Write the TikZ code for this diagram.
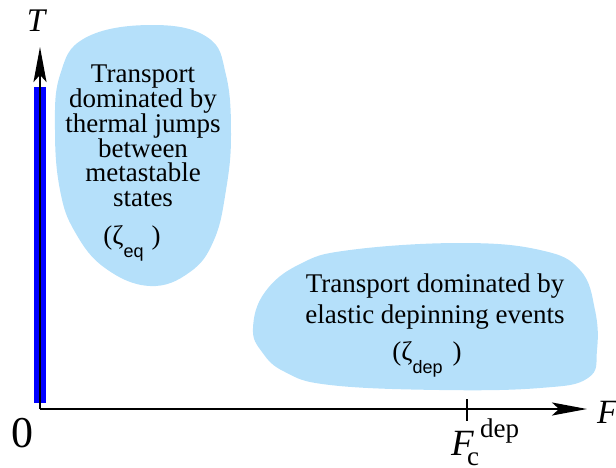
\documentclass[tikz,border=0pt]{standalone}
\usepackage{fontspec}
\setmainfont{Liberation Serif}
\newfontfamily\sanssub{Liberation Sans}
\usetikzlibrary{arrows.meta}
\definecolor{blobblue}{RGB}{181,224,250}
\definecolor{barblue}{RGB}{0,0,255}
\tikzset{
  blob/.style={fill=blobblue, draw=none},
  axis/.style={line width=2pt, -{Stealth[length=35pt,width=13pt,inset=7pt]}},
  blobtext/.style={align=center, inner sep=0pt, font=\fontsize{27}{24.5}\selectfont},
  lbl/.style={inner sep=0pt},
}
\newcommand{\subtxt}[1]{\raisebox{-13pt}{\sanssub\fontsize{18}{18}\selectfont #1}}
\begin{document}
\begin{tikzpicture}[x=1pt,y=-1pt]
\useasboundingbox (0,0) rectangle (616,467);
% blobs
\path[blob] plot[smooth cycle, tension=0.7] coordinates {
 (150,25) (207,37) (226,75) (231,135) (226,190) (214,240) (190,272) (150,286)
 (105,268) (75,232) (60,190) (55,130) (60,75) (85,38)};
\path[blob] plot[smooth cycle, tension=0.7] coordinates {
 (253,328) (265,292) (300,264) (350,250) (460,243) (540,250) (580,270)
 (595,310) (597,350) (588,378) (540,388) (440,390) (330,385) (285,372) (262,352)};
% blue bar
\fill[barblue] (34,87) rectangle (46,403);
% axes
\coordinate (O) at (40,409);
\coordinate (Ttip) at (40,47);
\coordinate (Ftip) at (587,409);
\draw[axis] (O) -- (Ttip);
\draw[axis] (O) -- (Ftip);
\coordinate (tickA) at (467,399);
\coordinate (tickB) at (467,421);
\draw[line width=2pt] (tickA) -- (tickB);
% labels
\node[lbl, font=\fontsize{33}{33}\selectfont\itshape] (Tlab) at (36,21) {T};
\node[lbl, font=\fontsize{34}{34}\selectfont\itshape, anchor=base west] (Flab) at (597,423) {F};
\node[lbl, font=\fontsize{44}{44}\selectfont, anchor=base] (zero) at (22.5,447) {0};
\node[lbl, font=\fontsize{37}{37}\selectfont\itshape, anchor=base west] (Fc) at (451,455) {F};
\node[lbl, font=\fontsize{27}{27}\selectfont, anchor=base west] (Fcsub) at (467,465) {c};
\node[lbl, font=\fontsize{27}{27}\selectfont, anchor=base west] (Fcsup) at (480,437) {dep};
% blob texts
\node[blobtext, anchor=north] (eqtext) at (143,65)
  {Transport\\dominated by\\thermal jumps\\between\\metastable\\states};
\node[blobtext, anchor=base] (eqzeta) at (132,244) {(ζ\subtxt{eq}\hspace{8pt})};
\node[blobtext, font=\fontsize{27}{31}\selectfont, anchor=north] (deptext) at (435,274)
  {Transport dominated by\\elastic depinning events};
\node[blobtext, anchor=base] (depzeta) at (427,360) {(ζ\subtxt{dep}\hspace{10pt})};
\end{tikzpicture}
\end{document}
